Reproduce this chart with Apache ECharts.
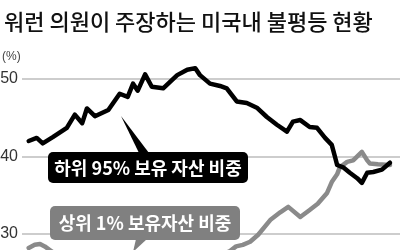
<!DOCTYPE html>
<html><head><meta charset="utf-8">
<script src="https://cdn.jsdelivr.net/npm/echarts@6/dist/echarts.min.js"></script>
<style>html,body{margin:0;padding:0;background:#fff}#c{width:400px;height:250px}</style>
</head><body><div id="c"></div>
<script>
// 하위 95% 보유 자산 비중 (year, %)
const bottom95 = [
[1962.0,42.0],[1963.2,42.4],[1964.1,41.7],[1965.6,42.5],[1967.7,43.7],[1968.9,45.4],
[1970.0,44.3],[1970.7,46.2],[1971.9,45.2],[1973.9,46.0],[1975.6,48.1],[1976.8,47.7],
[1977.6,49.4],[1978.3,48.5],[1979.4,50.6],[1980.4,49.0],[1982.1,48.8],[1984.2,50.5],
[1985.7,51.2],[1986.9,51.4],[1987.6,50.5],[1989.1,49.4],[1990.6,49.1],[1991.6,48.8],
[1993.1,47.1],[1994.6,46.9],[1996.1,46.3],[1997.6,45.1],[1999.1,44.1],[2000.6,43.2],
[2001.5,44.5],[2002.6,44.7],[2004.0,43.8],[2005.1,43.7],[2006.3,42.4],[2007.3,41.5],
[2007.8,39.9],[2008.1,38.9],[2009.0,38.6],[2010.0,37.9],[2011.1,37.2],[2011.8,36.6],
[2012.6,37.9],[2013.5,38.0],[2014.8,38.3],[2016.0,39.2]
];
// 상위 1% 보유자산 비중 (year, %)
const top1 = [
[1962.0,28.2],[1962.9,28.6],[1963.7,28.7],[1964.4,28.4],[1965.2,27.9],[1966.7,27.0],
[1969.7,26.0],[1974.2,25.0],[1978.6,24.5],[1983.1,25.5],[1987.6,26.5],[1990.6,27.2],
[1992.1,27.8],[1993.0,28.4],[1994.0,28.6],[1995.1,29.0],[1996.3,29.9],[1998.1,31.8],
[1999.6,32.8],[2000.8,33.5],[2002.6,32.2],[2004.0,33.1],[2005.2,33.9],[2006.6,35.3],
[2007.3,36.7],[2008.1,37.7],[2008.5,38.6],[2009.6,39.3],[2010.5,39.5],[2011.8,40.6],
[2012.6,39.5],[2013.0,39.1],[2014.2,39.0],[2016.0,38.9]
];
const yTicks = [30, 40, 50];
const titleText = '워런 의원이 주장하는 미국내 불평등 현황';
const unitText = '(%)';
const label95 = '하위 95% 보유 자산 비중';
const label1 = '상위 1% 보유자산 비중';

const chart = echarts.init(document.getElementById('c'), null, {renderer:'canvas'});
const font = '"Noto Sans CJK KR", "Noto Sans", sans-serif';
chart.setOption({
  animation:false,
  title:{text:titleText, left:-1, top:6, textStyle:{fontFamily:font, fontSize:22, fontWeight:500, color:'#111'}},
  grid:{left:22, right:0, top:79, height:232.5, outerBoundsMode:'none', containLabel:false},
  xAxis:{type:'value', min:1961, max:2017.5, show:false},
  yAxis:{type:'value', min:20, max:50, interval:10,
    axisLine:{show:false}, axisTick:{show:false},
    axisLabel:{margin:4, color:'#333', fontSize:16, fontFamily:'"Liberation Sans Narrow", "Liberation Sans", sans-serif',
      formatter:v=> yTicks.includes(v) ? String(v) : ''},
    splitLine:{lineStyle:{color:'#bdbdbd', width:1.5}}},
  series:[
    {type:'line', data:top1, symbol:'none', clip:false, z:2,
      lineStyle:{color:'#8a8a8a', width:4.5, join:'round', cap:'round'}},
    {type:'line', data:bottom95, symbol:'none', clip:false, z:3,
      lineStyle:{color:'#000', width:4.5, join:'round', cap:'round'}}
  ],
  graphic:[
    {type:'text', left:2, top:51, style:{text:unitText, fontSize:12, fill:'#444', fontFamily:'"Liberation Sans", sans-serif'}},
    {type:'polygon', shape:{points:[[121,116],[139,153],[149,153]]}, style:{fill:'#000'}, z:10},
    {type:'rect', shape:{x:48, y:152, width:200, height:31, r:5}, style:{fill:'#000'}, z:10},
    {type:'text', x:148, y:168, z:11, style:{text:label95, fill:'#fff', fontSize:18, fontWeight:'bold', fontFamily:font, align:'center', verticalAlign:'middle'}},
    {type:'polygon', shape:{points:[[136,239],[147,239],[133,252]]}, style:{fill:'#808080'}, z:10},
    {type:'rect', shape:{x:50, y:206, width:190, height:34, r:5}, style:{fill:'#808080'}, z:10},
    {type:'text', x:145, y:223, z:11, style:{text:label1, fill:'#fff', fontSize:18, fontWeight:'bold', fontFamily:font, align:'center', verticalAlign:'middle'}}
  ]
});
</script></body></html>
